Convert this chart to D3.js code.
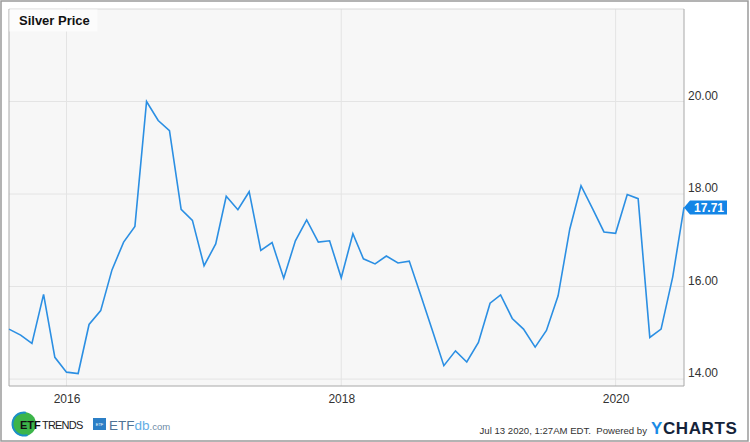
<!DOCTYPE html>
<html>
<head>
<meta charset="utf-8">
<script src="https://cdn.jsdelivr.net/npm/d3@7"></script>
<style>
  body { margin: 0; background: #fff; }
  svg { display: block; font-family: "Liberation Sans", Arial, sans-serif; }
</style>
</head>
<body>
<div id="chart"></div>
<script>
// monthly silver price, Aug 2015 .. Jul 2020
var startMonth = '2015-08-01'
var prices = [
  15.08, 14.95, 14.77, 15.83, 14.47, 14.15, 14.12, 15.18, 15.48, 16.36,
  16.96, 17.30, 20.00, 19.59, 19.37, 17.67, 17.43, 16.45, 16.92, 17.95,
  17.66, 18.05, 16.78, 16.95, 16.18, 16.99, 17.44, 16.96, 16.99, 16.19,
  17.14, 16.60, 16.49, 16.66, 16.51, 16.55, 15.80, 15.04, 14.29, 14.61,
  14.37, 14.79, 15.64, 15.82, 15.31, 15.08, 14.69, 15.05, 15.80, 17.24,
  18.18, 17.68, 17.18, 17.15, 17.99, 17.90, 14.90, 15.08, 16.21, 17.71
]
var yTicks = [14, 16, 18, 20]
var xTickYears = ['2016-01-01', '2018-01-01', '2020-01-01']
var lastLabel = '17.71'

var width = 750
var height = 442
var plot = { left: 9, top: 9, right: 684, bottom: 386 }

var parse = d3.timeParse('%Y-%m-%d')
var start = parse(startMonth)
var data = prices.map(function(p, i) {
  return { date: d3.timeMonth.offset(start, i), value: p }
})

var svg = d3
  .select('#chart')
  .append('svg')
  .attr('width', width)
  .attr('height', height)

// outer frame
svg.append('rect')
  .attr('x', 1).attr('y', 1)
  .attr('width', width - 3).attr('height', height - 2)
  .attr('fill', '#fff')
  .attr('stroke', '#9a9a9a')
  .attr('stroke-width', 1.5)

var x = d3.scaleTime()
  .domain([start, data[data.length - 1].date])
  .range([plot.left, plot.right])

var y = d3.scaleLinear()
  .domain([13.85, 22.0])
  .range([plot.bottom, plot.top])

// plot background
svg.append('rect')
  .attr('x', plot.left).attr('y', plot.top)
  .attr('width', plot.right - plot.left)
  .attr('height', plot.bottom - plot.top)
  .attr('fill', '#f7f7f7')

// grid lines
svg.append('g')
  .selectAll('line')
  .data(yTicks)
  .enter()
  .append('line')
  .attr('x1', plot.left).attr('x2', plot.right)
  .attr('y1', d => y(d)).attr('y2', d => y(d))
  .attr('stroke', '#e4e4e4')

var years = xTickYears.map(parse)
svg.append('g')
  .selectAll('line')
  .data(years)
  .enter()
  .append('line')
  .attr('x1', d => x(d)).attr('x2', d => x(d))
  .attr('y1', plot.top).attr('y2', plot.bottom)
  .attr('stroke', '#e4e4e4')

// plot border (left, right, bottom darker)
svg.append('line')
  .attr('x1', plot.left).attr('x2', plot.right)
  .attr('y1', plot.top).attr('y2', plot.top)
  .attr('stroke', '#d8d8d8')
svg.append('path')
  .attr('d', `M${plot.left},${plot.top}V${plot.bottom}H${plot.right}V${plot.top}`)
  .attr('fill', 'none')
  .attr('stroke', '#a8a8a8')

// y axis labels on the right
var yAxis = d3.axisRight(y)
  .tickValues(yTicks)
  .tickSize(0)
  .tickPadding(4)
  .tickFormat(d3.format('.2f'))

svg.append('g')
  .attr('transform', `translate(${plot.right},0)`)
  .call(yAxis)
  .call(g => g.select('.domain').remove())
  .call(g => g.selectAll('text')
    .attr('font-size', 12)
    .attr('font-family', '"Liberation Sans", Arial, sans-serif')
    .attr('fill', '#333')
    .attr('dy', '-0.2em'))

// x axis labels
var xAxis = d3.axisBottom(x)
  .tickValues(years)
  .tickSize(0)
  .tickPadding(8)
  .tickFormat(d3.timeFormat('%Y'))

svg.append('g')
  .attr('transform', `translate(0,${plot.bottom})`)
  .call(xAxis)
  .call(g => g.select('.domain').remove())
  .call(g => g.selectAll('text')
    .attr('font-size', 12)
    .attr('font-family', '"Liberation Sans", Arial, sans-serif')
    .attr('fill', '#333'))

// the price line
var line = d3.line()
  .x(d => x(d.date))
  .y(d => y(d.value))

svg.append('path')
  .datum(data)
  .attr('d', line)
  .attr('fill', 'none')
  .attr('stroke', '#2b8fe3')
  .attr('stroke-width', 1.6)
  .attr('stroke-linejoin', 'miter')

// last value tag
var last = data[data.length - 1]
var ty = y(last.value)
var tag = svg.append('g').attr('transform', `translate(${x(last.date)},${ty})`)
tag.append('path')
  .attr('d', 'M0,0L6,-7H43V7H6Z')
  .attr('fill', '#1485e6')
tag.append('text')
  .attr('x', 25).attr('y', 4.5)
  .attr('text-anchor', 'middle')
  .attr('font-size', 12)
  .attr('font-weight', 'bold')
  .attr('fill', '#fff')
  .text(lastLabel)

// title box
svg.append('rect')
  .attr('x', plot.left + 0.5).attr('y', plot.top + 0.5)
  .attr('width', 88).attr('height', 22)
  .attr('fill', '#fcfcfc')
svg.append('text')
  .attr('x', 19).attr('y', 25)
  .attr('font-size', 13)
  .attr('font-weight', 'bold')
  .attr('fill', '#111')
  .text('Silver Price')

// footer: ETF Trends logo
var logo = svg.append('g')
logo.append('circle')
  .attr('cx', 24).attr('cy', 424).attr('r', 12)
  .attr('fill', '#3cb54a')
logo.append('path')
  .attr('d', d3.arc()({ innerRadius: 10.5, outerRadius: 12.5, startAngle: Math.PI * 0.9, endAngle: Math.PI * 2.05 }))
  .attr('transform', 'translate(24,424)')
  .attr('fill', '#1c8fc7')
logo.append('text')
  .attr('x', 20).attr('y', 428.5)
  .attr('font-size', 11)
  .attr('font-weight', 'bold')
  .attr('fill', '#111')
  .text('ETF')
logo.append('text')
  .attr('x', 42).attr('y', 428.5)
  .attr('font-size', 11)
  .attr('letter-spacing', -0.8)
  .attr('fill', '#222')
  .text('TRENDS')

// ETFdb.com logo
var db = svg.append('g')
db.append('rect')
  .attr('x', 93).attr('y', 418)
  .attr('width', 13).attr('height', 12)
  .attr('fill', '#2c7fc6')
db.append('text')
  .attr('x', 99.5).attr('y', 426)
  .attr('text-anchor', 'middle')
  .attr('font-size', 4)
  .attr('fill', '#fff')
  .text('ETF')
var dbText = db.append('text')
  .attr('x', 109).attr('y', 430)
  .attr('font-size', 13.5)
dbText.append('tspan').attr('fill', '#4f7396').text('ETF')
dbText.append('tspan').attr('fill', '#62aee6').text('db')
dbText.append('tspan').attr('fill', '#6d8aa6').attr('font-size', 9.5).text('.com')

// footer: timestamp and YCharts
svg.append('text')
  .attr('x', 647).attr('y', 434)
  .attr('text-anchor', 'end')
  .attr('font-size', 9.6)
  .attr('fill', '#333')
  .style('white-space', 'pre')
  .text('Jul 13 2020, 1:27AM EDT.  Powered by')

var yc = svg.append('text')
  .attr('x', 651).attr('y', 434)
  .attr('font-size', 17)
  .attr('font-weight', 'bold')
  .attr('letter-spacing', 0.6)
yc.append('tspan').attr('fill', '#1a8be6').text('Y')
yc.append('tspan').attr('fill', '#14233a').text('CHARTS')
</script>
</body>
</html>
